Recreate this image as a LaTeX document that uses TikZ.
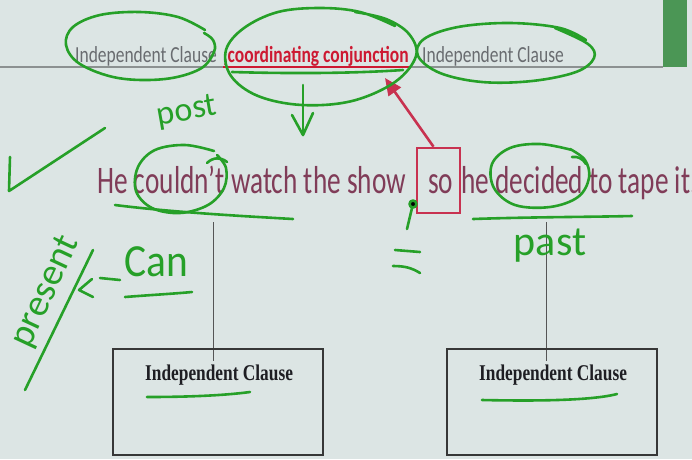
\documentclass[tikz,border=0pt]{standalone}
\usepackage{fontspec}
\usetikzlibrary{arrows.meta}
% condensed slide faces
\newfontfamily\slidefont[FakeStretch=0.76]{Carlito}
\newfontfamily\sentfont[FakeStretch=0.70]{Carlito}
\newfontfamily\serifcond[FakeStretch=0.77]{Liberation Serif}
\newfontfamily\handfont{Carlito}
\definecolor{bg}{RGB}{220,229,228}
\definecolor{pen}{RGB}{38,160,40}
\definecolor{greytext}{RGB}{105,108,112}
\definecolor{conjred}{RGB}{205,25,50}
\definecolor{sent}{RGB}{128,60,88}
\definecolor{boxred}{RGB}{200,50,80}
\definecolor{rulegrey}{RGB}{140,145,145}
\definecolor{barg}{RGB}{75,150,85}
\definecolor{connline}{RGB}{85,85,85}
\definecolor{boxline}{RGB}{55,55,55}
\definecolor{boxtext}{RGB}{30,30,35}
\begin{document}
\begin{tikzpicture}[x=1pt,y=-1pt,
  pen/.style={draw=pen, line width=2.6pt, line cap=round, line join=round},
  txt/.style={inner sep=0pt, anchor=base west},
  hand/.style={inner sep=0pt, text=pen},
  conn/.style={draw=connline, line width=0.8pt},
  clausebox/.style={draw=boxline, line width=1.1pt, minimum width=210pt, minimum height=106pt, inner sep=0pt},
  topfont/.style={font=\slidefont\fontsize{23}{26}\selectfont},
  sentfont/.style={font=\sentfont\fontsize{39}{42}\selectfont, text=sent},
  boxfont/.style={font=\serifcond\bfseries\fontsize{22.5}{24}\selectfont, text=boxtext},
]
\useasboundingbox (0,0) rectangle (692,459);
\fill[bg] (0,0) rectangle (692,459);
\clip (0,0) rectangle (692,459);

% slide header: rule and side bar
\draw[rulegrey, line width=1.4pt] (0,67) -- (663,67);
\fill[barg] (663,0) rectangle (687,67);

% header pattern
\node[txt, topfont, text=greytext] (top1) at (75,62) {Independent Clause};
\node[txt, topfont, text=conjred, font=\slidefont\bfseries\fontsize{23}{26}\selectfont] (conj) at (223,62) {,coordinating conjunction};
\draw[conjred, line width=1.3pt] ([yshift=-5pt]conj.base west) -- ([yshift=-5pt]conj.base east);
\node[txt, topfont, text=greytext] (top2) at (422,62) {Independent Clause};

% example sentence
\node[txt, sentfont] (s1) at (97,193) {He couldn’t watch the show};
\node[txt, sentfont] (s2) at (428,193) {so};
\node[txt, sentfont] (s3) at (461,193) {he decided to tape it.};

% box around the conjunction and arrow to the header
\node[draw=boxred, line width=2.6pt, minimum width=43pt, minimum height=65pt, inner sep=0pt] (sobox) at (438.5,180.5) {};
\coordinate (tipc) at (385,78);
\draw[boxred, line width=2.6pt, -{Triangle[length=17pt,width=15pt]}] ([xshift=-5pt]sobox.north) -- (tipc);

% clause boxes and their connectors
\coordinate (l1a) at (213,222);
\coordinate (l1b) at (213,361);
\coordinate (l2a) at (546,222);
\coordinate (l2b) at (546,361);
\draw[conn] (l1a) -- (l1b);
\draw[conn] (l2a) -- (l2b);
\node[clausebox] (box1) at (218,402) {};
\node[clausebox] (box2) at (552,402) {};
\node[txt, boxfont] (c1) at (145,380) {Independent Clause};
\node[txt, boxfont] (c2) at (479,380) {Independent Clause};

% pen annotations: header circles
\draw[pen] plot[smooth, tension=0.6] coordinates {(205,30) (178,17) (140,12) (100,15) (73,27) (66,45) (80,64) (118,78) (165,79) (200,69) (214,52) (213,40) (204,33)};
\draw[pen] plot[smooth, tension=0.6] coordinates {(395,26) (360,12) (320,8) (278,12) (244,28) (226,50) (231,76) (258,96) (302,105) (352,101) (395,82) (416,56) (409,34) (386,19) (355,12)};
\draw[pen] plot[smooth, tension=0.6] coordinates {(555,28) (588,44) (594,58) (576,72) (532,81) (482,82) (440,73) (418,56) (424,39) (458,27) (510,23) (560,28) (586,40)};
\draw[pen] (232,72) .. controls (300,74) and (360,73) .. (403,70);
\draw[pen] (303,85) -- (303,135);
\draw[pen] (292,115) -- (303,135) -- (313,113);

% pen annotations: sentence
\node[hand, font=\handfont\fontsize{34}{36}\selectfont, rotate=10] (post) at (187,112) {post};
\draw[pen] (10,157) -- (9,191) -- (105,128);
\draw[pen] plot[smooth, tension=0.6] coordinates {(214,151) (185,145) (155,150) (138,167) (136,191) (152,208) (180,213) (208,205) (224,188) (226,168) (217,155)};
\draw[pen] (207,163) .. controls (213,157) and (221,157) .. (227,162);
\draw[pen] (115,205) .. controls (170,212) and (240,216) .. (293,219);
\draw[pen] plot[smooth, tension=0.6] coordinates {(572,150) (540,144) (510,148) (492,164) (494,188) (515,205) (550,207) (578,197) (589,178) (585,160) (570,149)};
\draw[pen] (572,157) .. controls (578,156) and (583,159) .. (586,164);
\draw[pen] (473,219) .. controls (530,217) and (590,217) .. (632,216);
\node[hand, font=\handfont\fontsize{42}{44}\selectfont] (past) at (550,246) {past};
\fill[pen] (413,204) circle (3.5pt);
\draw[pen] (412,208) -- (407,229);
\draw[pen] (395,250) -- (420,252);
\draw[pen] (393,266) .. controls (405,266) and (412,268) .. (420,273);

% pen annotations: left margin
\draw[pen] (25,390) -- (93,250);
\draw[pen] (92,279) -- (79,290) -- (93,297);
\draw[pen] (100,278) -- (120,280);
\node[hand, font=\handfont\fontsize{46}{48}\selectfont, xscale=0.9] (can) at (156,262) {Can};
\draw[pen] (125,297) .. controls (150,295) and (170,294) .. (192,292);
\node[hand, font=\handfont\fontsize{38}{40}\selectfont, rotate=65] (present) at (46,292) {present};

% pen annotations: clause boxes
\draw[pen] (147,397) .. controls (180,397) and (220,396) .. (250,392);
\draw[pen] (482,400) .. controls (530,401) and (590,401) .. (617,394);
\end{tikzpicture}
\end{document}
